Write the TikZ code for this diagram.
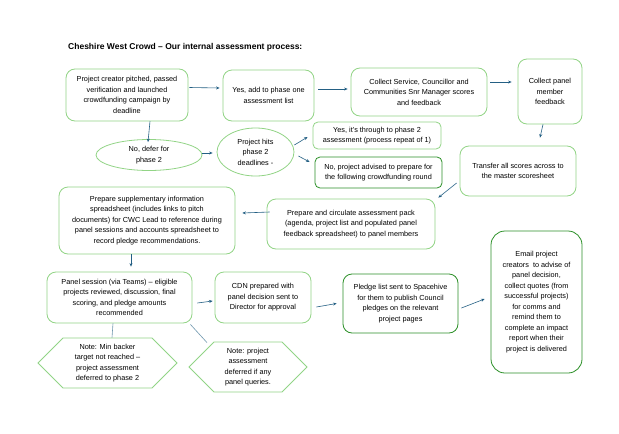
\documentclass[tikz,border=0pt]{standalone}
\usepackage{fontspec}
\setmainfont{Liberation Sans}
\usetikzlibrary{shapes.geometric,shapes.symbols,arrows.meta,calc}

\begin{document}
\begin{tikzpicture}[x=1pt,y=-1pt]

% Define box and arrow colours
\definecolor{boxgreen}{RGB}{146,212,134}
\colorlet{darkgreen}{green!45!black!70!boxgreen}
\definecolor{arrowblue}{RGB}{36,96,132}
\colorlet{tieblue}{arrowblue!65}

\fill[white] (0,0) rectangle (619,434);
\useasboundingbox (0,0) rectangle (619,434);

\node[anchor=west, font=\bfseries\fontsize{8.5}{10}\selectfont, inner sep=0pt] (title) at (68,47) {Cheshire West Crowd – Our internal assessment process:};

\begin{scope}[
every node/.style={align=center, font=\fontsize{7.3}{10.5}\selectfont, inner sep=1pt},
box/.style={draw=boxgreen, line width=0.8pt, rounded corners=9pt},
strongbox/.style={box, draw=darkgreen},
oval/.style={ellipse, draw=boxgreen, line width=0.8pt, inner sep=0pt},
notehex/.style={signal, signal to=east and west, signal pointer angle=90, draw=boxgreen, line width=0.8pt, inner sep=0pt},
link/.style={draw=arrowblue, line width=0.6pt, -{Stealth[length=3.5pt,width=3pt]}},
tie/.style={draw=tieblue, line width=0.6pt}]

% top row
\node[box, minimum width=122pt, minimum height=52pt] (pitched) at (127,95) {Project creator pitched, passed\\verification and launched\\crowdfunding campaign by\\deadline};
\node[box, minimum width=91pt, minimum height=51pt] (phaseone) at (268.5,95.5) {Yes, add to phase one\\assessment list};
\node[box, minimum width=136pt, minimum height=48pt] (scores) at (419,92) {Collect Service, Councillor and\\Communities Snr Manager scores\\and feedback};
\node[box, minimum width=64pt, minimum height=65pt] (panelfb) at (550,91.5) {Collect panel\\member\\feedback};

% phase 2 branch
\node[oval, minimum width=106pt, minimum height=31pt] (defer) at (149,155) {No, defer for\\phase 2};
\node[oval, minimum width=77pt, minimum height=48pt] (hits) at (255.5,152) {Project hits\\phase 2\\deadlines -};
\node[box, minimum width=128pt, minimum height=27pt, rounded corners=5pt] (through) at (377,135.5) {Yes, it's through to phase 2\\assessment (process repeat of 1)};
\node[strongbox, minimum width=127pt, minimum height=31pt, rounded corners=5pt] (advised) at (378.5,172.5) {No, project advised to prepare for\\the following crowdfunding round};

% middle row
\node[box, minimum width=116pt, minimum height=50pt] (transfer) at (518,171) {Transfer all scores across to\\the master scoresheet};
\node[box, minimum width=168pt, minimum height=50pt] (pack) at (351,224) {Prepare and circulate assessment pack\\(agenda, project list and populated panel\\feedback spreadsheet) to panel members};
\node[box, minimum width=176pt, minimum height=67pt] (supp) at (147,220.5) {Prepare supplementary information\\spreadsheet (includes links to pitch\\documents) for CWC Lead to reference during\\panel sessions and accounts spreadsheet to\\record pledge recommendations.};

% bottom row
\node[box, minimum width=145pt, minimum height=51pt] (session) at (119.5,297.5) {Panel session (via Teams) – eligible\\projects reviewed, discussion, final\\scoring, and pledge amounts\\recommended};
\node[box, minimum width=96pt, minimum height=51pt] (cdn) at (263,297.5) {CDN prepared with\\panel decision sent to\\Director for approval};
\node[strongbox, minimum width=115pt, minimum height=59pt] (pledge) at (400.5,303.5) {Pledge list sent to Spacehive\\for them to publish Council\\pledges on the relevant\\project pages};
\node[strongbox, minimum width=91pt, minimum height=142pt, rounded corners=14pt] (email) at (536.5,302) {Email project\\creators\ \ to advise of\\panel decision,\\collect quotes (from\\successful projects)\\for comms and\\remind them to\\complete an impact\\report when their\\project is delivered};

% notes
\node[notehex, minimum width=139pt, minimum height=50pt] (backer) at (107.5,363) {Note: Min backer\\target not reached –\\project assessment\\deferred to phase 2};
\node[notehex, minimum width=118pt, minimum height=50pt] (queries) at (248,367) {Note: project\\assessment\\deferred if any\\panel queries.};

% connectors
\draw[link] ($(pitched.east)+(1,-7.5)$) -- ($(phaseone.west)+(-3,-7.5)$);
\draw[link] ($(phaseone.east)+(4,-6.5)$) -- ($(scores.west)+(-3,-3)$);
\draw[link] ($(scores.east)+(3,-10)$) -- ($(panelfb.west)+(-6,-9.5)$);
\draw[link] ($(panelfb.south)+(-7,0)$) -- ($(transfer.north)+(22,-8)$);
\draw[link] ($(pitched.south)+(23,0)$) -- ($(defer.north)+(-1,3)$);
\draw[link] ($(defer.east)+(0,-2)$) -- ($(hits.west)+(-4,1)$);
\draw[link] ($(hits.east)+(0,-7)$) -- ($(through.west)+(-5,1.5)$);
\draw[link] ($(hits.east)+(4,4)$) -- ($(advised.west)+(-5,-10.5)$);
\draw[link] ($(transfer.west)+(-3,12)$) -- ($(pack.north east)+(3,-1)$);
\draw[link] ($(pack.west)+(3,-12)$) -- ($(supp.east)+(7,-7.5)$);
\draw[link] ($(supp.south)+(-16,0)$) -- ($(session.north)+(11.5,-5)$);
\draw[link] ($(session.east)+(5,5.5)$) -- ($(cdn.west)+(-2,3.5)$);
\draw[link] ($(cdn.east)+(5,9.5)$) -- ($(pledge.west)+(-6,0)$);
\draw[link] ($(pledge.east)+(3,4.5)$) -- ($(email.west)+(-6,-3)$);
\draw[tie] ($(session.south)+(-6.5,0)$) -- ($(backer.north)+(4.5,0)$);
\draw[tie] ($(session.south east)+(-2,1)$) -- ($(queries.north)+(-41,1)$);
\end{scope}

\end{tikzpicture}
\end{document}
